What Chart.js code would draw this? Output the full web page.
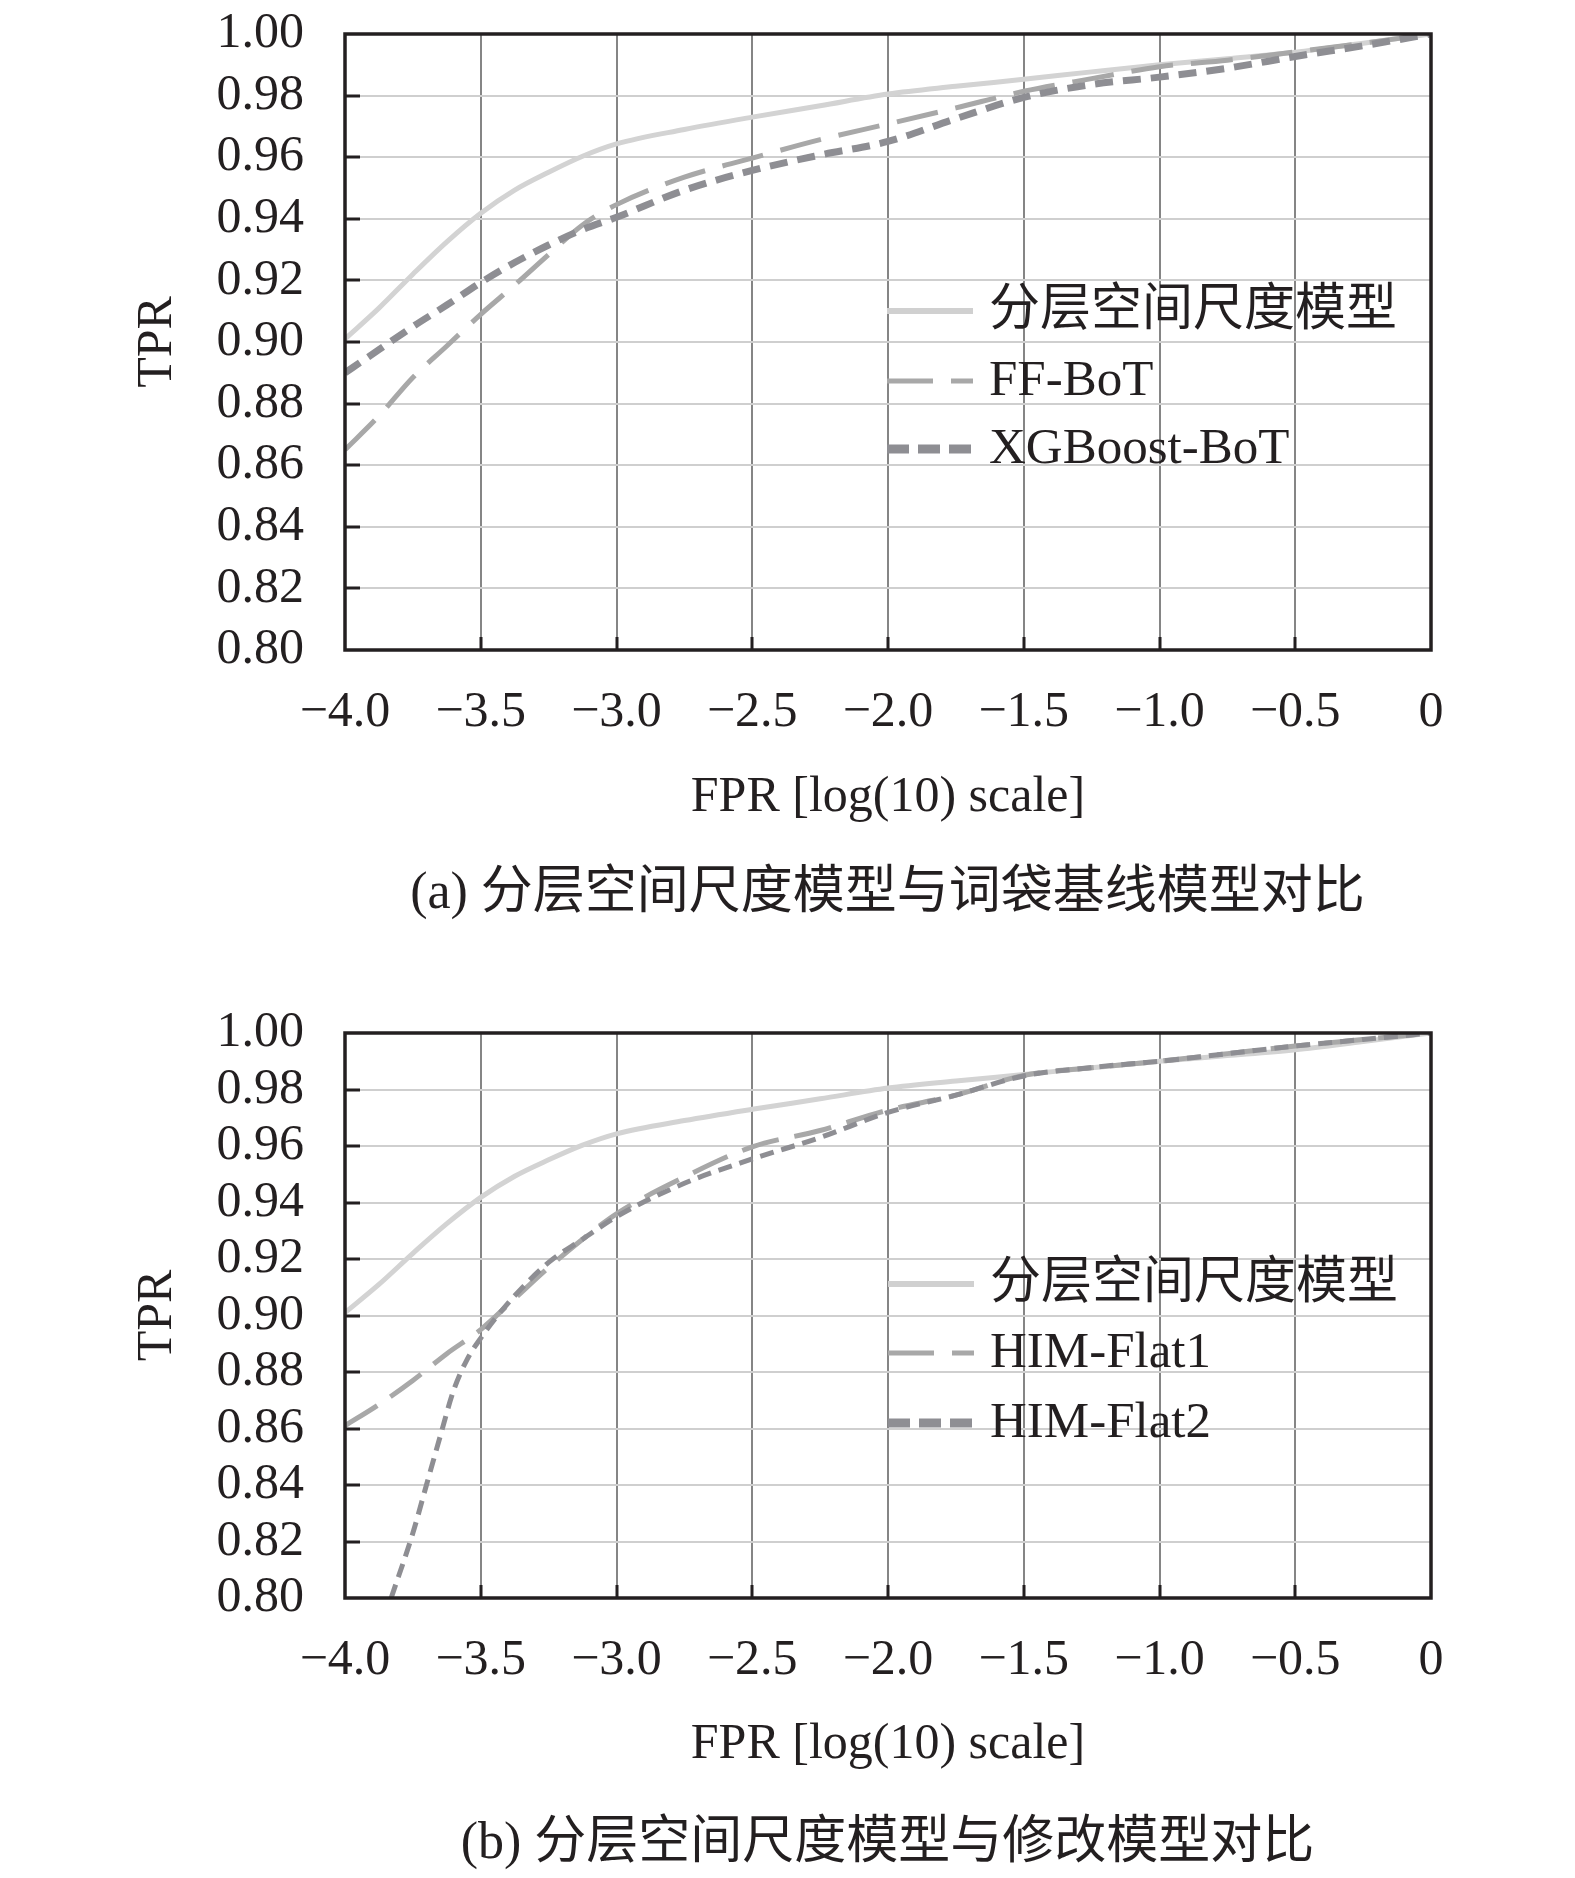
<!DOCTYPE html>
<html>
<head>
<meta charset="utf-8">
<script src="https://cdn.jsdelivr.net/npm/chart.js@4.4.1/dist/chart.umd.min.js"></script>
<style>
  html, body { margin: 0; padding: 0; background: #ffffff; }
  body { width: 1575px; height: 1878px; position: relative; overflow: hidden; }
  canvas { position: absolute; left: 0; }
  .cap, .leg { position: absolute; font-family: 'Liberation Serif', 'Noto Sans CJK SC', serif; color: #231f20; white-space: nowrap; }
  .cap { font-size: 52px; line-height: 52px; width: 1575px; left: 0; text-align: center; }
  .leg { font-size: 51px; line-height: 51px; }
  .legline { position: absolute; }
</style>
</head>
<body>
<canvas id="chartA" width="1575" height="940" style="top:0px"></canvas>
<canvas id="chartB" width="1575" height="938" style="top:940px"></canvas>
<div id="overlay"></div>
<script>
// ---------------- data ----------------
const xTickValues = [-4, -3.5, -3, -2.5, -2, -1.5, -1, -0.5, 0];
const xTickLabels = ['\u22124.0', '\u22123.5', '\u22123.0', '\u22122.5', '\u22122.0', '\u22121.5', '\u22121.0', '\u22120.5', '0'];
const yTickValues = [0.80, 0.82, 0.84, 0.86, 0.88, 0.90, 0.92, 0.94, 0.96, 0.98, 1.00];
const yTickLabels = ['0.80', '0.82', '0.84', '0.86', '0.88', '0.90', '0.92', '0.94', '0.96', '0.98', '1.00'];

const xLabel = 'FPR [log(10) scale]';
const yLabel = 'TPR';
const captionA = '(a) 分层空间尺度模型与词袋基线模型对比';
const captionB = '(b) 分层空间尺度模型与修改模型对比';

const seriesNamesA = ['分层空间尺度模型', 'FF-BoT', 'XGBoost-BoT'];
const seriesNamesB = ['分层空间尺度模型', 'HIM-Flat1', 'HIM-Flat2'];

// common FPR grid (log10)
const fprGrid = [-4, -3.875, -3.75, -3.625, -3.5, -3.375, -3.25, -3.125, -3, -2.75, -2.5, -2.25, -2, -1.75, -1.5, -1.25, -1, -0.75, -0.5, -0.25, 0];

const hsmTPR    = [0.901, 0.911, 0.922, 0.9325, 0.9418, 0.9493, 0.9551, 0.9603, 0.9643, 0.969, 0.973, 0.9767, 0.9805, 0.983, 0.9853, 0.9877, 0.990, 0.992, 0.9941, 0.997, 1.0];
const ffBotTPR  = [0.865, 0.876, 0.8885, 0.8987, 0.909, 0.9185, 0.9284, 0.938, 0.9446, 0.9535, 0.9597, 0.9657, 0.9708, 0.976, 0.9814, 0.9855, 0.9894, 0.9915, 0.9942, 0.997, 1.0];
const xgbBotTPR = [0.890, 0.8975, 0.905, 0.912, 0.9193, 0.9258, 0.9315, 0.9365, 0.9405, 0.9493, 0.9557, 0.9607, 0.9651, 0.9725, 0.9794, 0.9836, 0.986, 0.9889, 0.9927, 0.9962, 1.0];

const flat1TPR = [0.861, 0.8685, 0.877, 0.8865, 0.895, 0.906, 0.917, 0.927, 0.936, 0.949, 0.9597, 0.9655, 0.9727, 0.978, 0.985, 0.9877, 0.990, 0.9927, 0.9954, 0.9977, 1.0];
const flat2FPR = [-3.83, -3.75, -3.7, -3.65, -3.6, -3.55, -3.5, -3.45, -3.375, -3.25, -3.125, -3, -2.75, -2.5, -2.25, -2, -1.75, -1.5, -1.25, -1, -0.75, -0.5, -0.25, 0];
const flat2TPR = [0.800, 0.823, 0.840, 0.857, 0.8735, 0.8845, 0.892, 0.8985, 0.907, 0.9188, 0.927, 0.935, 0.9468, 0.9554, 0.963, 0.9719, 0.978, 0.9848, 0.9878, 0.990, 0.9927, 0.9954, 0.9977, 1.0];

// ---------------- styles ----------------
const INK = '#231f20';
const SERIF = "'Liberation Serif', 'Times New Roman', serif";
const styleHSM  = { color: '#d3d3d3', width: 5, dash: [] };
const styleFF   = { color: '#a8a8a8', width: 5, dash: [42, 18] };
const styleXGB  = { color: '#8e8e93', width: 7, dash: [18, 10] };
const styleF1   = { color: '#a8a8a8', width: 5, dash: [38, 16] };
const styleF2   = { color: '#8e8e93', width: 5, dash: [14, 8] };

function pts(xs, ys) { return xs.map((x, i) => ({ x: x, y: ys[i] })); }
function ds(label, data, st, order) {
  return {
    label: label, data: data, borderColor: st.color, borderWidth: st.width,
    borderDash: st.dash, pointRadius: 0, fill: false, order: order,
    cubicInterpolationMode: 'monotone', borderCapStyle: 'butt'
  };
}

const framePlugin = {
  id: 'frame',
  afterDatasetsDraw(chart) {
    const ctx = chart.ctx, a = chart.chartArea;
    const xs = chart.scales.x, ys = chart.scales.y;
    ctx.save();
    ctx.strokeStyle = INK;
    ctx.lineWidth = 3;
    ctx.beginPath();
    yTickValues.forEach(v => {
      if (v <= 0.8 || v >= 1.0) return;
      const py = Math.round(ys.getPixelForValue(v));
      ctx.moveTo(a.left, py); ctx.lineTo(a.left + 15, py);
    });
    xTickValues.forEach(v => {
      if (v <= -4 || v >= 0) return;
      const px = Math.round(xs.getPixelForValue(v));
      ctx.moveTo(px, a.bottom); ctx.lineTo(px, a.bottom - 13);
    });
    ctx.stroke();
    ctx.lineWidth = 3.5;
    ctx.strokeRect(a.left, a.top, a.right - a.left, a.bottom - a.top);
    ctx.restore();
  }
};

function makeChart(id, datasets, padTop, xHeight, titleBottomPad) {
  return new Chart(document.getElementById(id), {
    type: 'line',
    data: { datasets: datasets },
    plugins: [framePlugin],
    options: {
      responsive: false, animation: false, devicePixelRatio: 1,
      layout: { padding: { top: padTop, right: 144, left: 0, bottom: 0 } },
      plugins: { legend: { display: false }, tooltip: { enabled: false } },
      scales: {
        x: {
          type: 'linear', min: -4, max: 0,
          afterBuildTicks: s => { s.ticks = xTickValues.map(v => ({ value: v })); },
          afterFit: s => { s.height = xHeight; s.paddingLeft = 0; s.paddingRight = 0; },
          grid: { color: '#858585', lineWidth: 2, drawTicks: false },
          border: { display: false },
          ticks: {
            padding: 33, color: INK, font: { family: SERIF, size: 50 },
            maxRotation: 0, autoSkip: false,
            callback: (v, i) => xTickLabels[i]
          },
          title: { display: true, text: xLabel, color: INK, font: { family: SERIF, size: 50 }, padding: { top: 0, bottom: titleBottomPad } }
        },
        y: {
          type: 'linear', min: 0.8, max: 1.0,
          afterBuildTicks: s => { s.ticks = yTickValues.map(v => ({ value: v })); },
          afterFit: s => { s.width = 345; s.paddingTop = 0; s.paddingBottom = 0; },
          grid: { color: '#cfcfcf', lineWidth: 2, drawTicks: false },
          border: { display: false },
          ticks: {
            padding: 41, color: INK, font: { family: SERIF, size: 50 },
            autoSkip: false,
            callback: (v, i) => yTickLabels[i]
          },
          title: { display: true, text: yLabel, color: INK, font: { family: SERIF, size: 50 }, padding: { top: 128, bottom: 0 } }
        }
      }
    }
  });
}

makeChart('chartA', [
  ds(seriesNamesA[0], pts(fprGrid, hsmTPR), styleHSM, 3),
  ds(seriesNamesA[1], pts(fprGrid, ffBotTPR), styleFF, 2),
  ds(seriesNamesA[2], pts(fprGrid, xgbBotTPR), styleXGB, 1)
], 34, 290, 112);

makeChart('chartB', [
  ds(seriesNamesB[0], pts(fprGrid, hsmTPR), styleHSM, 3),
  ds(seriesNamesB[1], pts(fprGrid, flat1TPR), styleF1, 2),
  ds(seriesNamesB[2], pts(flat2FPR, flat2TPR), styleF2, 1)
], 93, 280, 103);

// ---------------- legends & captions (HTML text) ----------------
const overlay = document.getElementById('overlay');
function legendRow(name, lineX, textX, cy, st) {
  const svg = document.createElementNS('http://www.w3.org/2000/svg', 'svg');
  svg.setAttribute('width', '86'); svg.setAttribute('height', '14');
  svg.setAttribute('class', 'legline');
  svg.style.left = lineX + 'px'; svg.style.top = (cy - 7) + 'px';
  const ln = document.createElementNS('http://www.w3.org/2000/svg', 'line');
  ln.setAttribute('x1', '0'); ln.setAttribute('x2', '86');
  ln.setAttribute('y1', '7'); ln.setAttribute('y2', '7');
  ln.setAttribute('stroke', st.color);
  ln.setAttribute('stroke-width', st.lw);
  if (st.dasharray) ln.setAttribute('stroke-dasharray', st.dasharray);
  svg.appendChild(ln);
  overlay.appendChild(svg);
  const t = document.createElement('div');
  t.className = 'leg';
  t.textContent = name;
  t.style.left = textX + 'px';
  t.style.top = (cy - 28) + 'px';
  overlay.appendChild(t);
}
const legHSM = { color: '#d0d0d0', lw: 6 };
const legDash = { color: '#a8a8a8', lw: 5, dasharray: '46 18' };
const legShort = { color: '#8e8e93', lw: 9, dasharray: '22 9' };

legendRow(seriesNamesA[0], 887, 989, 311, legHSM);
legendRow(seriesNamesA[1], 887, 989, 381, legDash);
legendRow(seriesNamesA[2], 887, 989, 449, legShort);
legendRow(seriesNamesB[0], 888, 990, 1284, legHSM);
legendRow(seriesNamesB[1], 888, 990, 1353, legDash);
legendRow(seriesNamesB[2], 888, 990, 1423, legShort);

function caption(text, cy) {
  const d = document.createElement('div');
  d.className = 'cap';
  d.style.top = (cy - 24) + 'px';
  d.style.left = (887 - 787) + 'px';
  d.textContent = text;
  overlay.appendChild(d);
}
caption(captionA, 889);
caption(captionB, 1839);
</script>
</body>
</html>
